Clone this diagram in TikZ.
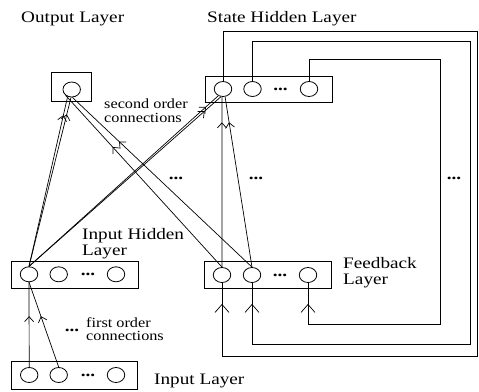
\documentclass[tikz,border=0pt]{standalone}
\usepackage{fontspec}
\setmainfont{Liberation Serif}
\usetikzlibrary{shapes.geometric,arrows.meta,decorations.markings}

\tikzset{
  unit/.style={ellipse, draw, line width=0.8pt, minimum width=17.5pt, minimum height=15pt, inner sep=0pt},
  layerbox/.style={rectangle, draw, line width=0.9pt, inner sep=0pt},
  conn/.style={line width=0.7pt},
  midarrow/.style={postaction={decorate}, decoration={markings,
      mark=at position #1 with {\arrow{Straight Barb[length=5pt,width=9pt,line width=0.7pt]}}}},
  wirearrow/.style={postaction={decorate}, decoration={markings,
      mark=at position -21pt with {\arrow{Straight Barb[length=8pt,width=14pt,line width=0.7pt]}}}},
  bigtext/.style={inner sep=0pt, anchor=base west, xscale=1.2, font=\fontsize{16}{16}\selectfont},
  smalltext/.style={inner sep=0pt, anchor=base west, xscale=1.16, font=\fontsize{14}{14}\selectfont},
  dotrow/.style={inner sep=0pt, anchor=center, xscale=1.2, font=\fontsize{16}{16}\selectfont\bfseries},
}

\begin{document}
\begin{tikzpicture}[x=1pt, y=-1pt]
\useasboundingbox (0,0) rectangle (479,391);

% layer boxes
\node[layerbox, minimum width=40pt, minimum height=29pt] (obox) at (71,87.2) {};
\node[layerbox, minimum width=127.3pt, minimum height=26.7pt] (sbox) at (268.7,89.3) {};
\node[layerbox, minimum width=126.6pt, minimum height=27pt] (ihbox) at (75,274.5) {};
\node[layerbox, minimum width=127.4pt, minimum height=26.6pt] (fbbox) at (268,275) {};
\node[layerbox, minimum width=125.6pt, minimum height=27.3pt] (inbox) at (74.5,375.3) {};

% units
\node[unit] (o1) at (71.7,89.5) {};
\node[unit] (s1) at (223,89) {};
\node[unit] (s2) at (252.5,89) {};
\node[unit] (s3) at (309,89) {};
\node[unit] (ih1) at (29,274.3) {};
\node[unit] (ih2) at (58.7,274.3) {};
\node[unit] (ih3) at (116,274.3) {};
\node[unit] (fb1) at (222,275) {};
\node[unit] (fb2) at (252,275) {};
\node[unit] (fb3) at (308,275) {};
\node[unit] (in1) at (29.2,375) {};
\node[unit] (in2) at (58.7,375) {};
\node[unit] (in3) at (116,375) {};

% ellipses between units and between connections
\node[dotrow] (sdots) at (280.5,89) {...};
\node[dotrow] (ihdots) at (88,274.5) {...};
\node[dotrow] (fbdots) at (280,275) {...};
\node[dotrow] (indots) at (88,375) {...};
\node[dotrow] (xdots) at (176,178) {...};
\node[dotrow] (vdots) at (256,178) {...};
\node[dotrow] (wdots) at (454,178) {...};
\node[dotrow] (fodots) at (72,330) {...};

% labels
\node[bigtext] (lout) at (21,22.7) {Output Layer};
\node[bigtext] (lstate) at (207,22.7) {State Hidden Layer};
\node[bigtext] (lih1) at (82,239.3) {Input Hidden};
\node[bigtext] (lih2) at (82,255.5) {Layer};
\node[bigtext] (lfb1) at (343,268.3) {Feedback};
\node[bigtext] (lfb2) at (343,284.3) {Layer};
\node[bigtext] (lin) at (154,384.3) {Input Layer};
\node[smalltext] (lso1) at (104,108.5) {second order};
\node[smalltext] (lso2) at (104,122) {connections};
\node[smalltext] (lfo1) at (86,327) {first order};
\node[smalltext] (lfo2) at (86,340) {connections};

% first order connections
\draw[conn, midarrow=0.6] (in1.north) -- (ih1.south);
\draw[conn, midarrow=0.6] (in2.north) -- (ih1.south);

% second order connections into the output unit
\draw[conn, midarrow=0.89] (ih1.north) -- (o1.240);
\draw[conn, midarrow=0.90] (ih1.north) -- (o1.265);
\draw[conn, midarrow=0.70] (fb1.north) -- (o1.225);
\draw[conn, midarrow=0.74] (fb2.north) -- (o1.275);

% second order connections into the state unit
\draw[conn, midarrow=0.935] (ih1.north) -- (s1.235);
\draw[conn, midarrow=0.915] (ih1.north) -- (s1.255);
\draw[conn, midarrow=0.85] (fb1.north) -- (s1.262);
\draw[conn, midarrow=0.85] (fb2.north) -- (s1.285);

% recurrent wires from state units back to feedback units
\coordinate (w1a) at (477.6,31.7);
\coordinate (w1b) at (477.6,356);
\coordinate (w2a) at (470.7,41.7);
\coordinate (w2b) at (470.7,344.3);
\coordinate (w3a) at (440,59);
\coordinate (w3b) at (440,324);
\draw[conn, wirearrow] (s1.north) |- (w1a) -- (w1b) -| (fb1.south);
\draw[conn, wirearrow] (s2.north) |- (w2a) -- (w2b) -| (fb2.south);
\draw[conn, wirearrow] (s3.north) |- (w3a) -- (w3b) -| (fb3.south);
\end{tikzpicture}
\end{document}
